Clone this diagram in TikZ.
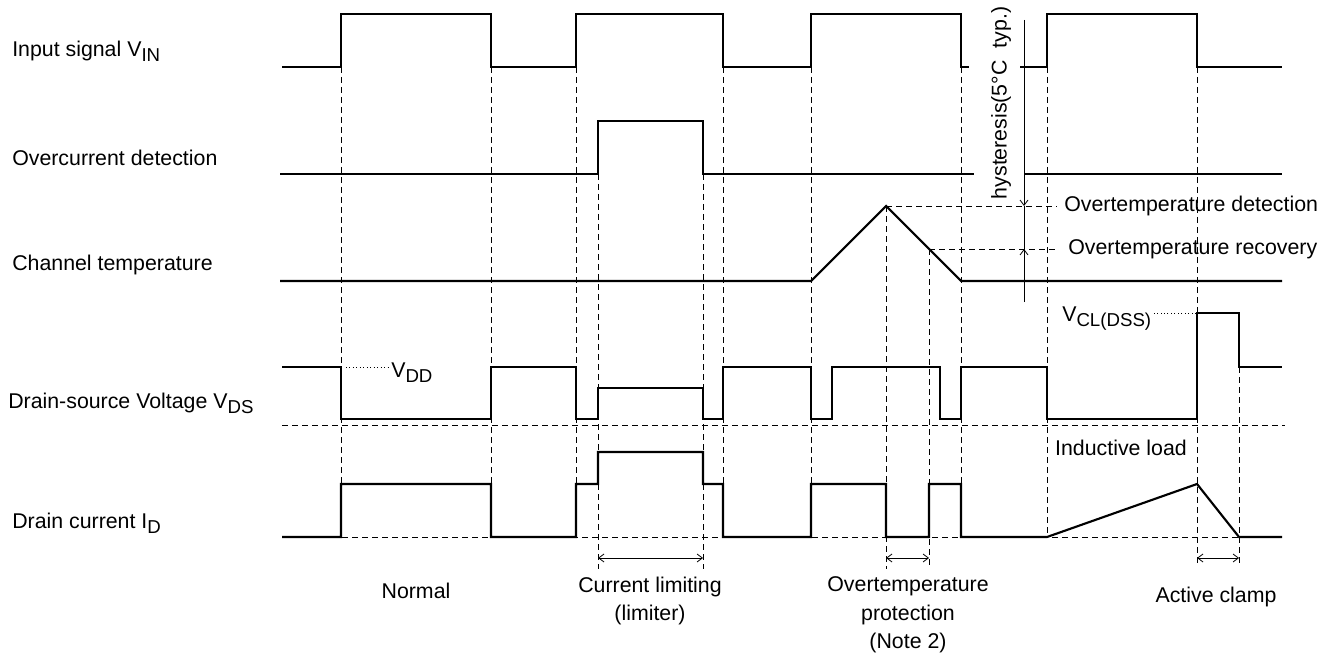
\documentclass[tikz,border=0pt]{standalone}
\usepackage{fontspec}
\setmainfont{Liberation Sans}
\usetikzlibrary{arrows.meta}

\newcommand{\lowsub}[1]{\raisebox{-0.45ex}{\fontsize{14}{16}\selectfont #1}}

\begin{document}
\begin{tikzpicture}[
    x=0.75pt,y=-0.75pt,
    wave/.style={line width=1.6pt,line join=miter},
    guide/.style={dash pattern=on 4.5pt off 3pt,line width=0.6pt},
    dotline/.style={dotted,line width=0.6pt},
    sigtext/.style={font=\fontsize{16}{21.5}\selectfont,inner sep=0pt},
    dimarrow/.style={{Straight Barb[length=4pt,width=6pt]}-{Straight Barb[length=4pt,width=6pt]},line width=0.6pt},
    hysarrow/.style={-{Straight Barb[length=4pt,width=6pt]},line width=0.6pt}
  ]
    \useasboundingbox (0,0) rectangle (1333,659);

    % signal names
    \node[sigtext,anchor=west] (vin) at (12,51) {Input signal V\lowsub{IN}};
    \node[sigtext,anchor=west] (ocd) at (12,158) {Overcurrent detection};
    \node[sigtext,anchor=west] (tch) at (12,265) {Channel temperature};
    \node[sigtext,anchor=west] (vds) at (8,403) {Drain-source Voltage V\lowsub{DS}};
    \node[sigtext,anchor=west] (idr) at (12,523) {Drain current I\lowsub{D}};

    % time marks
    \foreach \x/\ya/\yb in {341/67/484, 491/67/484, 576/67/484, 598/174/569,
                            703/174/569, 723/67/484, 811/67/484, 886/206/569,
                            929/249/569, 961/67/484, 1047/67/537, 1197/67/567,
                            1239/367/567}
      \draw[guide] (\x,\ya) -- (\x,\yb);

    % zero levels
    \draw[guide] (282,425) -- (1285,425);
    \draw[guide] (282,537) -- (1282,537);

    % input signal
    \draw[wave] (282,67) -- (341,67) -- (341,14) -- (491,14) -- (491,67)
      -- (576,67) -- (576,14) -- (723,14) -- (723,67) -- (811,67) -- (811,14)
      -- (961,14) -- (961,67) -- (969,67);
    \draw[wave] (1020,67) -- (1047,67) -- (1047,14) -- (1197,14) -- (1197,67)
      -- (1282,67);

    % overcurrent detection
    \draw[wave] (280,174) -- (598,174) -- (598,121) -- (703,121) -- (703,174)
      -- (974,174);
    \draw[wave] (1024,174) -- (1282,174);

    % channel temperature
    \coordinate (peak) at (886,206);
    \coordinate (recov) at (929,249);
    \draw[wave] (280,281) -- (811,281) -- (peak) -- (961,281) -- (1282,281);

    % drain-source voltage
    \draw[wave] (282,367) -- (341,367) -- (341,419) -- (491,419) -- (491,367)
      -- (576,367) -- (576,419) -- (598,419) -- (598,388) -- (703,388)
      -- (703,419) -- (723,419) -- (723,367) -- (811,367) -- (811,419)
      -- (832,419) -- (832,367) -- (940,367) -- (940,419) -- (961,419)
      -- (961,367) -- (1047,367) -- (1047,419) -- (1197,419) -- (1197,313)
      -- (1239,313) -- (1239,367) -- (1282,367);

    % drain current
    \draw[wave] (282,537) -- (341,537) -- (341,484) -- (491,484) -- (491,537)
      -- (576,537) -- (576,484) -- (598,484) -- (598,452) -- (703,452)
      -- (703,484) -- (723,484) -- (723,537) -- (811,537) -- (811,484)
      -- (886,484) -- (886,537) -- (929,537) -- (929,484) -- (961,484)
      -- (961,537) -- (1047,537) -- (1197,484) -- (1239,537) -- (1282,537);

    % levels
    \node[sigtext,anchor=west] (vdd) at (391,373) {V\lowsub{DD}};
    \coordinate (vddlvl) at (346,367);
    \draw[dotline] (vddlvl) -- (vddlvl -| vdd.west);

    \node[sigtext,anchor=west] (vcl) at (1062,319) {V\lowsub{CL(DSS)}};
    \coordinate (vcltop) at (1196,313);
    \draw[dotline] (vcltop) -- (vcltop -| vcl.east);

    \node[sigtext,anchor=west] (otdet) at (1064,206) {Overtemperature detection};
    \node[sigtext,anchor=west] (otrec) at (1068,249) {Overtemperature recovery};
    \draw[guide] (peak) -- (1057,206);
    \draw[guide] (recov) -- (1057,249);

    % hysteresis
    \node[sigtext,rotate=90] (hys) at (1001,103) {hysteresis(5°C~ typ.)};
    \coordinate (hystop) at (1024,20);
    \coordinate (hysbot) at (1024,302);
    \coordinate (hysdet) at (1024,206);
    \coordinate (hysrec) at (1024,249);
    \draw[hysarrow] (hystop) -- (hysdet);
    \draw[line width=0.6pt] (hysdet) -- (hysrec);
    \draw[hysarrow] (hysbot) -- (hysrec);

    \node[sigtext] (ind) at (1121,448) {Inductive load};

    % operating modes
    \draw[dimarrow] (598,558) -- (703,558);
    \draw[dimarrow] (886,558) -- (929,558);
    \draw[dimarrow] (1197,558) -- (1239,558);

    \node[sigtext] (normal) at (416,591) {Normal};
    \node[sigtext,align=center] (climit) at (650,601) {Current limiting\\(limiter)};
    \node[sigtext,align=center] (otprot) at (908,615) {Overtemperature\\protection\\(Note 2)};
    \node[sigtext] (aclamp) at (1216,597) {Active clamp};
  \end{tikzpicture}
\end{document}
